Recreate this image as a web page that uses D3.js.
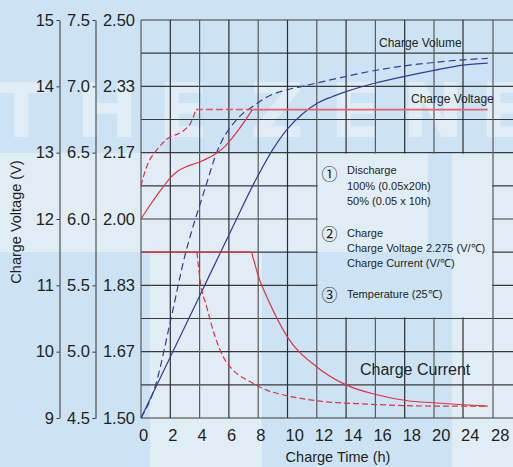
<!DOCTYPE html>
<html>
<head>
<meta charset="utf-8">
<script src="https://d3js.org/d3.v7.min.js"></script>
<style>
  html, body { margin: 0; padding: 0; background: #cce3f5; }
  svg { display: block; font-family: "Liberation Sans", Arial, sans-serif; }
</style>
</head>
<body>
<div id="chart"></div>
<script>
// tick labels
var xTickValues = [0, 2, 4, 6, 8, 10, 12, 14, 16, 18, 20, 24, 28];
var xTickLabels = ["0", "2", "4", "6", "8", "10", "12", "14", "16", "18", "20", "24", "28"];
var yTicks = [9, 10, 11, 12, 13, 14, 15];
var yLabels12 = ["9", "10", "11", "12", "13", "14", "15"];
var yLabels6 = ["4.5", "5.0", "5.5", "6.0", "6.5", "7.0", "7.5"];
var yLabels2 = ["1.50", "1.67", "1.83", "2.00", "2.17", "2.33", "2.50"];
var yGrid = [9, 9.5, 10, 10.5, 11, 11.5, 12, 12.5, 13, 13.5, 14, 14.5, 15];

// series: [hours, value on the 12V scale]
var voltage100 = [[0, 12.0], [0.5, 12.17], [1, 12.33], [1.5, 12.48], [2, 12.62], [2.5, 12.72], [3, 12.78],
  [3.5, 12.82], [4, 12.86], [4.5, 12.91], [5, 12.97], [5.5, 13.05], [6, 13.16], [6.5, 13.3], [7, 13.45], [7.6, 13.65]];
var voltageFloat = [[7.6, 13.65], [27.3, 13.65]];
var voltage50 = [[0, 12.5], [0.25, 12.7], [0.5, 12.85], [1, 13.02], [1.5, 13.15], [2, 13.24], [2.5, 13.28],
  [3, 13.35], [3.4, 13.45], [3.75, 13.65]];
var voltage50Flat = [[3.75, 13.65], [7.6, 13.65]];
var volume100 = [[0, 9.0], [2, 9.92], [4, 10.84], [6, 11.76], [8, 12.66], [9, 13.05], [10, 13.36], [11, 13.58],
  [12, 13.74], [13, 13.84], [14, 13.92], [16, 14.05], [18, 14.15], [20, 14.24], [24, 14.32], [27.3, 14.35]];
var volume50 = [[0, 9.0], [1, 9.5], [2, 10.45], [3, 11.45], [3.5, 11.85], [4, 12.2], [4.5, 12.55], [5, 12.9],
  [5.5, 13.17], [6, 13.35], [6.5, 13.49], [7, 13.6], [7.65, 13.7], [8.6, 13.84], [10, 13.95], [11, 14.0],
  [13, 14.1], [15.5, 14.22], [17.7, 14.3], [20, 14.36], [24, 14.4], [27.3, 14.42]];
var currentFlat = [[0, 11.5], [7.55, 11.5]];
var current100 = [[7.55, 11.5], [8.1, 11.08], [8.6, 10.82], [10, 10.22], [12, 9.77], [14, 9.5],
  [16.1, 9.35], [18.2, 9.26], [20, 9.23], [24, 9.2], [27.3, 9.18]];
var current50 = [[3.82, 11.5], [4.03, 11.08], [4.48, 10.68], [5.05, 10.23], [5.62, 9.92], [6.3, 9.72],
  [7.44, 9.55], [8.58, 9.42], [9.5, 9.36], [12, 9.26], [15.4, 9.21], [20, 9.18], [27.3, 9.18]];

var W = 513, H = 467;
var svg = d3.select("#chart").append("svg").attr("width", W).attr("height", H);

var x = d3.scaleLinear().domain([0, 20, 24, 28]).range([141, 434, 463, 493]);
var y = d3.scaleLinear().domain([9, 15]).range([418, 20]);

// background watermark
var light = "#e1edf5";
svg.append("rect").attr("width", W).attr("height", H).attr("fill", "#cce3f5");
svg.append("rect").attr("x", 0).attr("y", 153).attr("width", W).attr("height", 99).attr("fill", light);
svg.append("rect").attr("x", 150).attr("y", 252).attr("width", 112).attr("height", 215).attr("fill", light);
svg.append("rect").attr("x", 452).attr("y", 252).attr("width", 61).attr("height", 215).attr("fill", light);
svg.append("rect").attr("x", 428).attr("y", 153).attr("width", 24).attr("height", 99).attr("fill", "#cce3f5");
var wm = [["T", -4], ["H", 76], ["E", 158], ["Z", 250], ["E", 330], ["N", 402], ["E", 480]];
svg.selectAll(".wm").data(wm).enter().append("text")
  .attr("x", function(d) { return d[1]; })
  .attr("y", 137)
  .attr("font-size", 74)
  .attr("font-weight", "bold")
  .attr("font-family", "DejaVu Sans")
  .attr("fill", light)
  .text(function(d) { return d[0]; });

// grid, with the note box left clear
var defs = svg.append("defs");
var mask = defs.append("mask").attr("id", "box");
mask.append("rect").attr("width", W).attr("height", H).attr("fill", "white");
mask.append("rect")
  .attr("x", x(12) + 1).attr("y", y(13) + 1)
  .attr("width", x(28) - x(12) - 2).attr("height", y(10.5) - y(13) - 2)
  .attr("fill", "black");

var grid = svg.append("g").attr("mask", "url(#box)").attr("stroke", "#3a3a3a").attr("stroke-width", 1.2);
grid.selectAll(".h").data(yGrid).enter().append("line")
  .attr("x1", x(0)).attr("x2", W)
  .attr("y1", function(d) { return y(d); }).attr("y2", function(d) { return y(d); });
grid.selectAll(".v").data(xTickValues).enter().append("line")
  .attr("x1", function(d) { return x(d); }).attr("x2", function(d) { return x(d); })
  .attr("y1", y(15)).attr("y2", y(9))
  .attr("stroke", function(d, i) { return i % 2 ? "#2e2e2e" : "#5a5a5a"; });

// y axes
function yAxis(px, labels, size) {
  var g = svg.append("g").attr("transform", "translate(" + px + ",0)")
    .call(d3.axisLeft(y).tickValues(yTicks).tickFormat(function(d, i) { return labels[i]; })
      .tickSize(size).tickSizeOuter(0).tickPadding(size ? 2.5 : 6));
  g.attr("font-family", null).attr("font-size", null).attr("color", "#333");
  g.selectAll("text").attr("font-size", "16.5px").attr("fill", "#231f20");
  return g;
}
yAxis(59.5, yLabels12, 3);
yAxis(95.5, yLabels6, 3);
yAxis(141, yLabels2, 0).select(".domain").remove();

// x tick labels
svg.selectAll(".xl").data(xTickValues).enter().append("text")
  .attr("x", function(d) { return x(d) - 2; })
  .attr("y", 441)
  .attr("font-size", "16.5px")
  .attr("fill", "#231f20")
  .text(function(d, i) { return xTickLabels[i]; });

// curves
var line = d3.line().x(function(d) { return x(d[0]); }).y(function(d) { return y(d[1]); }).curve(d3.curveMonotoneX);
var red = "#e8303a", blue = "#363a98";
function draw(data, color, dash, width) {
  svg.append("path").datum(data)
    .attr("d", line)
    .attr("fill", "none")
    .attr("stroke", color)
    .attr("stroke-width", width || 1.2)
    .attr("stroke-dasharray", dash);
}
draw(volume50, blue, "7,4");
draw(volume100, blue, null);
draw(current50, red, "6,3");
draw(current100, red, null);
draw(currentFlat, red, null, 1.4);
draw(voltage50Flat, "#e8505a", "7,3", 1.6);
draw(voltage50, red, "6,3");
draw(voltage100, red, null);
draw(voltageFloat, "#e8606a", null, 1.8);

// annotations
function label(tx, ty, s, size) {
  svg.append("text").attr("x", tx).attr("y", ty).attr("font-size", size).attr("fill", "#231f20").text(s);
}
label(379, 47, "Charge Volume", "12px");
label(411, 103, "Charge Voltage", "12px");
label(360, 375, "Charge Current", "16px");

var notes = [["Discharge", 174], ["100% (0.05x20h)", 190], ["50% (0.05 x 10h)", 205],
  ["Charge", 237], ["Charge Voltage 2.275 (V/℃)", 252], ["Charge Current (V/℃)", 267],
  ["Temperature (25℃)", 298]];
notes.forEach(function(n) { label(347, n[1], n[0], "11px"); });
[["①", 173], ["②", 233], ["③", 294]].forEach(function(c) {
  svg.append("text").attr("x", 329.5).attr("y", c[1])
    .attr("text-anchor", "middle").attr("dominant-baseline", "central")
    .attr("font-family", "Noto Sans CJK JP").attr("font-size", "16px").attr("fill", "#231f20")
    .text(c[0]);
});

// axis titles
svg.append("text").attr("transform", "translate(21,222) rotate(-90)")
  .attr("text-anchor", "middle").attr("font-size", "14.5px").attr("fill", "#231f20")
  .text("Charge Voltage (V)");
svg.append("text").attr("x", 338).attr("y", 462)
  .attr("text-anchor", "middle").attr("font-size", "14.5px").attr("fill", "#231f20")
  .text("Charge Time (h)");
</script>
</body>
</html>
